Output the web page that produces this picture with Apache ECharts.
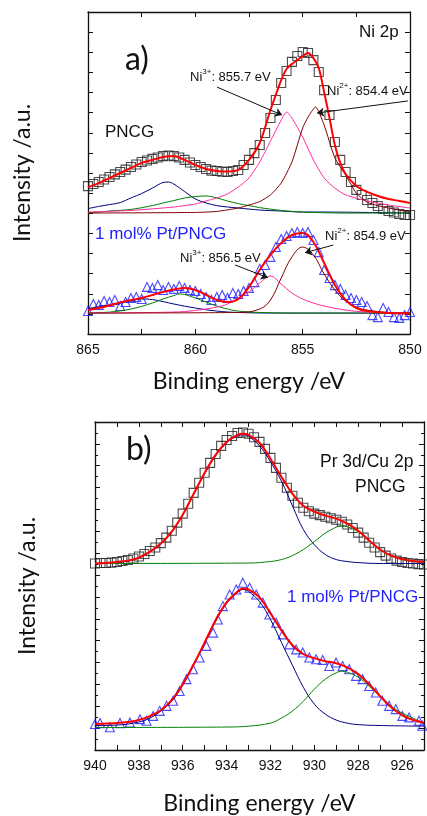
<!DOCTYPE html>
<html>
<head>
<meta charset="utf-8">
<script src="https://cdn.jsdelivr.net/npm/echarts@6.0.0/dist/echarts.min.js"></script>
<style>
  html, body { margin: 0; padding: 0; background: #fff; }
  #main { width: 427px; height: 816px; }
</style>
</head>
<body>
<div id="main"></div>
<script>
// ---- panel a) Ni 2p ----
var energyA = [865, 864.75, 864.5, 864.25, 864, 863.75, 863.5, 863.25, 863, 862.75, 862.5, 862.25, 862, 861.75, 861.5, 861.25, 861, 860.75, 860.5, 860.25,
  860, 859.75, 859.5, 859.25, 859, 858.75, 858.5, 858.25, 858, 857.75, 857.5, 857.25, 857, 856.75, 856.5, 856.25, 856, 855.75, 855.5, 855.25,
  855, 854.75, 854.5, 854.25, 854, 853.75, 853.5, 853.25, 853, 852.75, 852.5, 852.25, 852, 851.75, 851.5, 851.25, 851, 850.75, 850.5, 850.25, 850];
// PNCG measured (squares)
var pncgA = [7.35, 7.45, 7.55, 7.68, 7.80, 7.93, 8.05, 8.17, 8.30, 8.42, 8.55, 8.62, 8.70, 8.77, 8.84, 8.87, 8.84, 8.77, 8.65, 8.52,
  8.40, 8.30, 8.20, 8.12, 8.10, 8.07, 8.05, 8.10, 8.15, 8.40, 8.65, 8.99, 9.39, 9.99, 10.73, 11.63, 12.47, 13.07, 13.52, 13.81,
  14.01, 13.96, 13.61, 13.02, 12.12, 10.88, 9.54, 8.65, 8.05, 7.55, 7.16, 6.91, 6.66, 6.51, 6.36, 6.21, 6.11, 6.04, 5.96, 5.91, 5.91];
// 1 mol% Pt/PNCG measured (triangles)
var ptA = [1.14, 1.49, 1.44, 1.64, 1.59, 1.69, 1.39, 1.59, 1.79, 1.84, 1.74, 2.34, 2.29, 2.43, 2.19, 2.34, 2.24, 2.39, 2.29, 2.19,
  2.14, 1.99, 1.84, 1.69, 1.84, 1.94, 1.79, 2.04, 1.99, 2.14, 2.29, 2.58, 3.23, 3.43, 3.83, 4.32, 4.72, 4.87, 5.02, 5.07,
  5.02, 5.07, 4.67, 4.07, 3.18, 2.78, 2.43, 2.24, 1.94, 1.79, 1.69, 1.59, 1.39, 0.94, 0.84, 1.29, 1.09, 0.84, 0.80, 0.94, 1.09];

var fitTopA = [[865, 7.30], [864.5, 7.50], [864, 7.75], [863.5, 8.00], [863, 8.25], [862.5, 8.50], [862, 8.65], [861.5, 8.80], [861, 8.84],
  [860.5, 8.65], [860, 8.40], [859.5, 8.20], [859, 8.10], [858.5, 8.07], [858, 8.15], [857.5, 8.65], [857, 9.49], [856.5, 11.13],
  [856.25, 11.88], [856, 12.62], [855.75, 13.17], [855.5, 13.42], [855.25, 13.61], [855, 13.81], [854.75, 13.96], [854.5, 13.71],
  [854.25, 13.22], [854, 12.02], [853.75, 10.73], [853.5, 9.39], [853.25, 8.50], [853, 7.95], [852.5, 7.35], [852, 7.06],
  [851.5, 6.86], [851, 6.71], [850.5, 6.61], [850, 6.51]];
var navyTopA = [[865, 6.23], [864.5, 6.34], [864, 6.43], [863.5, 6.53], [863, 6.76], [862.5, 6.98], [862, 7.25], [861.5, 7.53], [861.25, 7.55],
  [861, 7.45], [860.5, 7.08], [860, 6.71], [859.5, 6.51], [859, 6.38], [858.5, 6.31], [858, 6.26], [857, 6.16], [856, 6.11],
  [855, 6.06], [854, 6.06], [852, 6.04], [850, 6.01]];
var greenTopA = [[865, 6.01], [864, 6.11], [863, 6.19], [862, 6.38], [861.5, 6.51], [861, 6.63], [860.5, 6.76], [860, 6.83], [859.5, 6.86],
  [859, 6.76], [858.5, 6.61], [858, 6.48], [857.5, 6.38], [857, 6.28], [856, 6.14], [855, 6.06], [853, 6.01], [850, 6.01]];
var pinkTopA = [[865, 6.06], [863, 6.14], [861, 6.31], [860, 6.46], [859.5, 6.61], [859, 6.76], [858.5, 6.96], [858, 7.30], [857.5, 7.75],
  [857, 8.55], [856.5, 9.59], [856, 10.63], [855.75, 11.03], [855.5, 10.73], [855, 9.79], [854.5, 8.65], [854, 7.75], [853.5, 7.25],
  [853, 6.91], [852, 6.61], [851, 6.41], [850, 6.26]];
var brownTopA = [[865, 6.01], [860, 6.04], [859, 6.09], [858, 6.26], [857.5, 6.41], [857, 6.58], [856.5, 6.91], [856, 7.50], [855.5, 8.55],
  [855, 10.24], [854.75, 10.78], [854.4, 11.28], [854, 10.38], [853.5, 8.75], [853, 7.90], [852.5, 7.00], [852, 6.55], [851.5, 6.38],
  [851, 6.26], [850, 6.06]];

var fitBotA = [[865, 1.19], [864.5, 1.29], [864, 1.42], [863.5, 1.57], [863, 1.69], [862.5, 1.79], [862, 1.94], [861.5, 2.09], [861, 2.21],
  [860.5, 2.29], [860, 2.19], [859.5, 1.94], [859, 1.69], [858.5, 1.59], [858, 1.74], [857.5, 2.34], [857, 3.18], [856.5, 3.93],
  [856, 4.52], [855.5, 4.92], [855, 5.02], [854.5, 4.57], [854, 3.53], [853.5, 2.43], [853, 1.69], [852.5, 1.29], [852, 1.14],
  [851, 1.04], [850, 1.02]];
var navyBotA = [[865, 1.27], [864, 1.44], [863, 1.64], [862.5, 1.74], [862, 1.71], [861.5, 1.61], [861, 1.49], [860, 1.29], [859, 1.14],
  [858, 1.07], [856, 1.04], [850, 1.04]];
var greenBotA = [[865, 1.04], [864, 1.09], [863, 1.24], [862, 1.54], [861.5, 1.74], [861, 1.91], [860.75, 1.99], [860.5, 1.96], [860, 1.79],
  [859.5, 1.59], [859, 1.39], [858.5, 1.24], [858, 1.14], [857, 1.07], [855, 1.04], [850, 1.04]];
var pinkBotA = [[865, 1.04], [861, 1.09], [860, 1.17], [859, 1.34], [858.5, 1.49], [858, 1.79], [857.5, 2.09], [857, 2.53], [856.5, 2.88],
  [856, 2.48], [855.5, 2.04], [855, 1.74], [854.5, 1.54], [854, 1.39], [853, 1.19], [852, 1.09], [850, 1.04]];
var brownBotA = [[865, 1.04], [858, 1.07], [857, 1.24], [856.5, 1.69], [856, 2.78], [855.5, 3.83], [855, 4.32], [854.5, 3.93], [854, 2.98],
  [853.5, 2.19], [853, 1.64], [852.5, 1.34], [852, 1.19], [851, 1.07], [850, 1.04]];

// ---- panel b) Pr 3d / Cu 2p ----
var energyB = [940, 939.75, 939.5, 939.25, 939, 938.75, 938.5, 938.25, 938, 937.75, 937.5, 937.25, 937, 936.75, 936.5, 936.25, 936, 935.75, 935.5, 935.25,
  935, 934.75, 934.5, 934.25, 934, 933.75, 933.5, 933.25, 933, 932.75, 932.5, 932.25, 932, 931.75, 931.5, 931.25, 931, 930.75, 930.5, 930.25,
  930, 929.75, 929.5, 929.25, 929, 928.75, 928.5, 928.25, 928, 927.75, 927.5, 927.25, 927, 926.75, 926.5, 926.25, 926, 925.75, 925.5, 925.25, 925];
var pncgB = [8.53, 8.55, 8.55, 8.57, 8.60, 8.64, 8.69, 8.76, 8.85, 8.96, 9.10, 9.26, 9.46, 9.71, 10.03, 10.40, 10.81, 11.26, 11.76, 12.22,
  12.68, 13.13, 13.54, 13.91, 14.18, 14.36, 14.50, 14.52, 14.46, 14.30, 14.09, 13.77, 13.36, 12.90, 12.45, 11.99, 11.63, 11.31, 11.08, 10.92,
  10.81, 10.74, 10.67, 10.60, 10.53, 10.44, 10.31, 10.15, 9.94, 9.71, 9.48, 9.26, 9.05, 8.89, 8.76, 8.66, 8.60, 8.55, 8.53, 8.50, 8.48];
var ptB = [[940, 1.19], [939.77, 1.23], [939.32, 1.04], [938.86, 1.23], [938.41, 1.26], [937.95, 1.41], [937.65, 1.34], [937.35, 1.56],
  [937.05, 1.79], [936.74, 2.02], [936.44, 2.25], [936.14, 2.70], [935.83, 3.24], [935.53, 3.69], [935.23, 4.23], [934.92, 4.76],
  [934.62, 5.37], [934.40, 5.97], [934.17, 6.58], [933.86, 7.11], [933.56, 7.34], [933.26, 7.65], [932.95, 7.42], [932.65, 7.11],
  [932.35, 6.74], [932.05, 6.20], [931.74, 5.82], [931.44, 5.29], [931.14, 4.83], [930.83, 4.60], [930.53, 4.46], [930.23, 4.23],
  [929.92, 4.15], [929.62, 4.12], [929.32, 3.84], [929.01, 4.00], [928.71, 3.84], [928.41, 3.69], [928.10, 3.39], [927.80, 3.24],
  [927.50, 2.93], [927.20, 2.63], [926.90, 2.25], [926.59, 2.02], [926.29, 1.87], [925.99, 1.56], [925.68, 1.49], [925.23, 1.34], [925.08, 1.11]];

var fitTopB = [[940, 8.53], [939.5, 8.55], [939, 8.60], [938.5, 8.66], [938, 8.80], [937.5, 9.07], [937, 9.44], [936.5, 9.99], [936, 10.76],
  [935.5, 11.72], [935, 12.68], [934.5, 13.50], [934, 14.09], [933.5, 14.41], [933.25, 14.46], [933, 14.41], [932.5, 14.05], [932, 13.32],
  [931.5, 12.49], [931, 11.72], [930.5, 11.17], [930, 10.90], [929.5, 10.72], [929, 10.58], [928.5, 10.35], [928, 10.03], [927.5, 9.58],
  [927, 9.17], [926.5, 8.89], [926, 8.73], [925.5, 8.64], [925, 8.60]];
var navyTopB = [[940, 8.53], [939, 8.57], [938.5, 8.64], [938, 8.78], [937.5, 9.05], [937, 9.41], [936.5, 9.96], [936, 10.74], [935.5, 11.70],
  [935, 12.63], [934.5, 13.45], [934, 14.05], [933.5, 14.36], [933.25, 14.41], [933, 14.34], [932.5, 13.91], [932, 13.18], [931.5, 12.30],
  [931, 11.17], [930.5, 10.08], [930, 9.39], [929.5, 8.94], [929, 8.71], [928.5, 8.62], [928, 8.57], [927, 8.53], [925, 8.53]];
var greenTopB = [[940, 8.53], [933, 8.55], [932, 8.62], [931.5, 8.71], [931, 8.89], [930.5, 9.17], [930, 9.53], [929.5, 9.92], [929, 10.19],
  [928.75, 10.26], [928.5, 10.21], [928, 9.99], [927.5, 9.58], [927, 9.17], [926.5, 8.89], [926, 8.71], [925.5, 8.62], [925, 8.57]];

var fitBotB = [[940, 1.19], [939.5, 1.21], [939, 1.23], [938.5, 1.28], [938, 1.37], [937.5, 1.55], [937, 1.82], [936.5, 2.28], [936, 3.01],
  [935.5, 3.92], [935, 4.92], [934.5, 5.93], [934, 6.75], [933.5, 7.25], [933.25, 7.39], [933, 7.34], [932.5, 6.98], [932, 6.25],
  [931.5, 5.47], [931, 4.79], [930.5, 4.38], [930, 4.20], [929.5, 4.06], [929, 3.97], [928.5, 3.78], [928, 3.47], [927.5, 3.01],
  [927, 2.46], [926.5, 1.96], [926, 1.60], [925.5, 1.37], [925, 1.25]];
var navyBotB = [[940, 1.12], [939, 1.14], [938, 1.28], [937.5, 1.46], [937, 1.78], [936.5, 2.23], [936, 2.96], [935.5, 3.88], [935, 4.88],
  [934.5, 5.88], [934, 6.70], [933.5, 7.20], [933.25, 7.34], [933, 7.25], [932.5, 6.79], [932, 5.97], [931.5, 4.92], [931, 3.88],
  [930.5, 2.87], [930, 2.10], [929.5, 1.64], [929, 1.37], [928.5, 1.23], [928, 1.16], [927, 1.12], [925, 1.09]];
var greenBotB = [[940, 1.03], [934, 1.05], [933, 1.09], [932, 1.23], [931.5, 1.46], [931, 1.78], [930.5, 2.23], [930, 2.78], [929.5, 3.24],
  [929, 3.53], [928.75, 3.60], [928.5, 3.56], [928, 3.33], [927.5, 2.92], [927, 2.46], [926.5, 2.01], [926, 1.69], [925.5, 1.46], [925, 1.22]];

var RED = '#ff0000', NAVY = '#000080', GREEN = '#008000', PINK = '#ff2a9d', BROWN = '#800000', BLUE = '#1e1eff';
var numFont = 'Liberation Sans';
var titleFont = 'Lato';

function zip(xs, ys) {
  return xs.map(function (x, i) { return [x, ys[i]]; });
}

// axes: closed box, ticks pointing in
function xAxis(grid, pos, min, max, step, every, nameGap) {
  return {
    type: 'value', gridIndex: grid, position: pos, inverse: true,
    min: min, max: max, interval: step,
    name: pos === 'bottom' ? 'Binding energy /eV' : '',
    nameLocation: 'middle', nameGap: nameGap,
    nameTextStyle: { fontFamily: titleFont, fontSize: 23, color: '#111' },
    axisLine: { onZero: false, lineStyle: { color: '#111', width: 1.3 } },
    axisTick: { inside: true, length: 5, lineStyle: { color: '#111' } },
    axisLabel: {
      show: pos === 'bottom', margin: 9, color: '#111', fontFamily: numFont, fontSize: 14,
      formatter: function (v) { return v % every === 0 ? String(v) : ''; }
    },
    splitLine: { show: false }
  };
}
function yAxis(grid, pos, max, minor, nameGap) {
  return {
    type: 'value', gridIndex: grid, position: pos, min: 0, max: max, interval: 1,
    name: pos === 'left' ? 'Intensity /a.u.' : '',
    nameLocation: 'middle', nameGap: nameGap,
    nameTextStyle: { fontFamily: titleFont, fontSize: 23, color: '#111' },
    axisLine: { onZero: false, lineStyle: { color: '#111', width: 1.3 } },
    axisTick: { inside: true, length: 5, lineStyle: { color: '#111' } },
    minorTick: { show: minor, splitNumber: 2, length: 3, lineStyle: { color: '#111' } },
    axisLabel: { show: false },
    splitLine: { show: false }
  };
}

function line(data, color, width, xi, smooth, extra) {
  var s = {
    type: 'line', data: data, xAxisIndex: xi, yAxisIndex: xi, showSymbol: false, smooth: smooth,
    lineStyle: { color: color, width: width }, z: width > 1.5 ? 4 : 3
  };
  if (extra) s.markLine = extra;
  return s;
}
function arrow(from, to) {
  return {
    silent: true, symbol: ['none', 'arrow'], symbolSize: 7,
    lineStyle: { color: '#111', width: 1, type: 'solid' },
    label: { show: false },
    data: [[{ coord: from }, { coord: to }]]
  };
}
function dots(data, symbol, color, size, xi) {
  return {
    type: 'scatter', data: data, xAxisIndex: xi, yAxisIndex: xi, symbol: symbol, symbolSize: size,
    itemStyle: { color: 'rgba(0,0,0,0)', borderColor: color, borderWidth: 1.1 }, z: 2
  };
}

function label(x, y, text, size, color, font, rich) {
  var st = {
    text: text, x: x, y: y, fill: color || '#111', fontFamily: font || numFont, fontSize: size,
    align: 'left', verticalAlign: 'middle'
  };
  if (rich) st.rich = rich;
  return { type: 'text', z: 100, style: st };
}
var ionRich = {
  n: { fontFamily: numFont, fontSize: 13, lineHeight: 16, verticalAlign: 'bottom', fill: '#111' },
  s: { fontFamily: numFont, fontSize: 8, lineHeight: 16, verticalAlign: 'top', fill: '#111' }
};

var chart = echarts.init(document.getElementById('main'));
chart.setOption({
  animation: false,
  backgroundColor: '#fff',
  grid: [
    { left: 88, top: 12, width: 322, height: 322 },
    { left: 95, top: 422, width: 330, height: 329 }
  ],
  xAxis: [
    xAxis(0, 'bottom', 850, 865, 2.5, 5, 36),
    xAxis(0, 'top', 850, 865, 2.5, 5, 0),
    xAxis(1, 'bottom', 925, 940, 1, 2, 42),
    xAxis(1, 'top', 925, 940, 1, 2, 0)
  ],
  yAxis: [
    yAxis(0, 'left', 16, false, 54),
    yAxis(0, 'right', 16, false, 0),
    yAxis(1, 'left', 15, true, 56),
    yAxis(1, 'right', 15, true, 0)
  ],
  series: [
    dots(zip(energyA, pncgA), 'rect', '#202020', 9, 0),
    line(navyTopA, NAVY, 1, 0, 0.3),
    line(greenTopA, GREEN, 1, 0, 0.3),
    line(pinkTopA, PINK, 1, 0, 0.2, arrow([858.99, 12.27], [855.96, 10.88])),
    line(brownTopA, BROWN, 1, 0, 0.2, arrow([850.1, 11.58], [854.33, 10.98])),
    line(fitTopA, RED, 2, 0, 0.3),
    dots(zip(energyA, ptA), 'triangle', BLUE, 9, 0),
    line(navyBotA, NAVY, 1, 0, 0.4),
    line(greenBotA, GREEN, 1, 0, 0.4),
    line(pinkBotA, PINK, 1, 0, 0.4, arrow([858.15, 3.43], [856.62, 2.80])),
    line(brownBotA, BROWN, 1, 0, 0.4, arrow([853.57, 4.42], [854.89, 4.04])),
    line(fitBotA, RED, 2, 0, 0.4),

    dots(zip(energyB, pncgB), 'rect', '#202020', 9, 2),
    line(navyTopB, NAVY, 1, 2, 0.4),
    line(greenTopB, GREEN, 1, 2, 0.4),
    line(fitTopB, RED, 2, 2, 0.4),
    dots(ptB, 'triangle', BLUE, 9, 2),
    line(navyBotB, NAVY, 1, 2, 0.4),
    line(greenBotB, GREEN, 1, 2, 0.4),
    line(fitBotB, RED, 2, 2, 0.4)
  ],
  graphic: [
    label(125, 60, 'a)', 32, '#111', titleFont),
    label(359, 32, 'Ni 2p', 17),
    label(105, 132, 'PNCG', 17),
    label(190, 76, '{n|Ni}{s|3+}{n|: 855.7 eV}', 13, '#111', numFont, ionRich),
    label(327, 90, '{n|Ni}{s|2+}{n|: 854.4 eV}', 13, '#111', numFont, ionRich),
    label(95, 234, '1 mol% Pt/PNCG', 17, BLUE),
    label(180, 257, '{n|Ni}{s|3+}{n|: 856.5 eV}', 13, '#111', numFont, ionRich),
    label(325, 235, '{n|Ni}{s|2+}{n|: 854.9 eV}', 13, '#111', numFont, ionRich),
    label(126, 450, 'b)', 32, '#111', titleFont),
    label(320, 462, 'Pr 3d/Cu 2p', 17.5),
    label(355, 487, 'PNCG', 17.5),
    label(287, 597, '1 mol% Pt/PNCG', 17, BLUE)
  ]
});
</script>
</body>
</html>
